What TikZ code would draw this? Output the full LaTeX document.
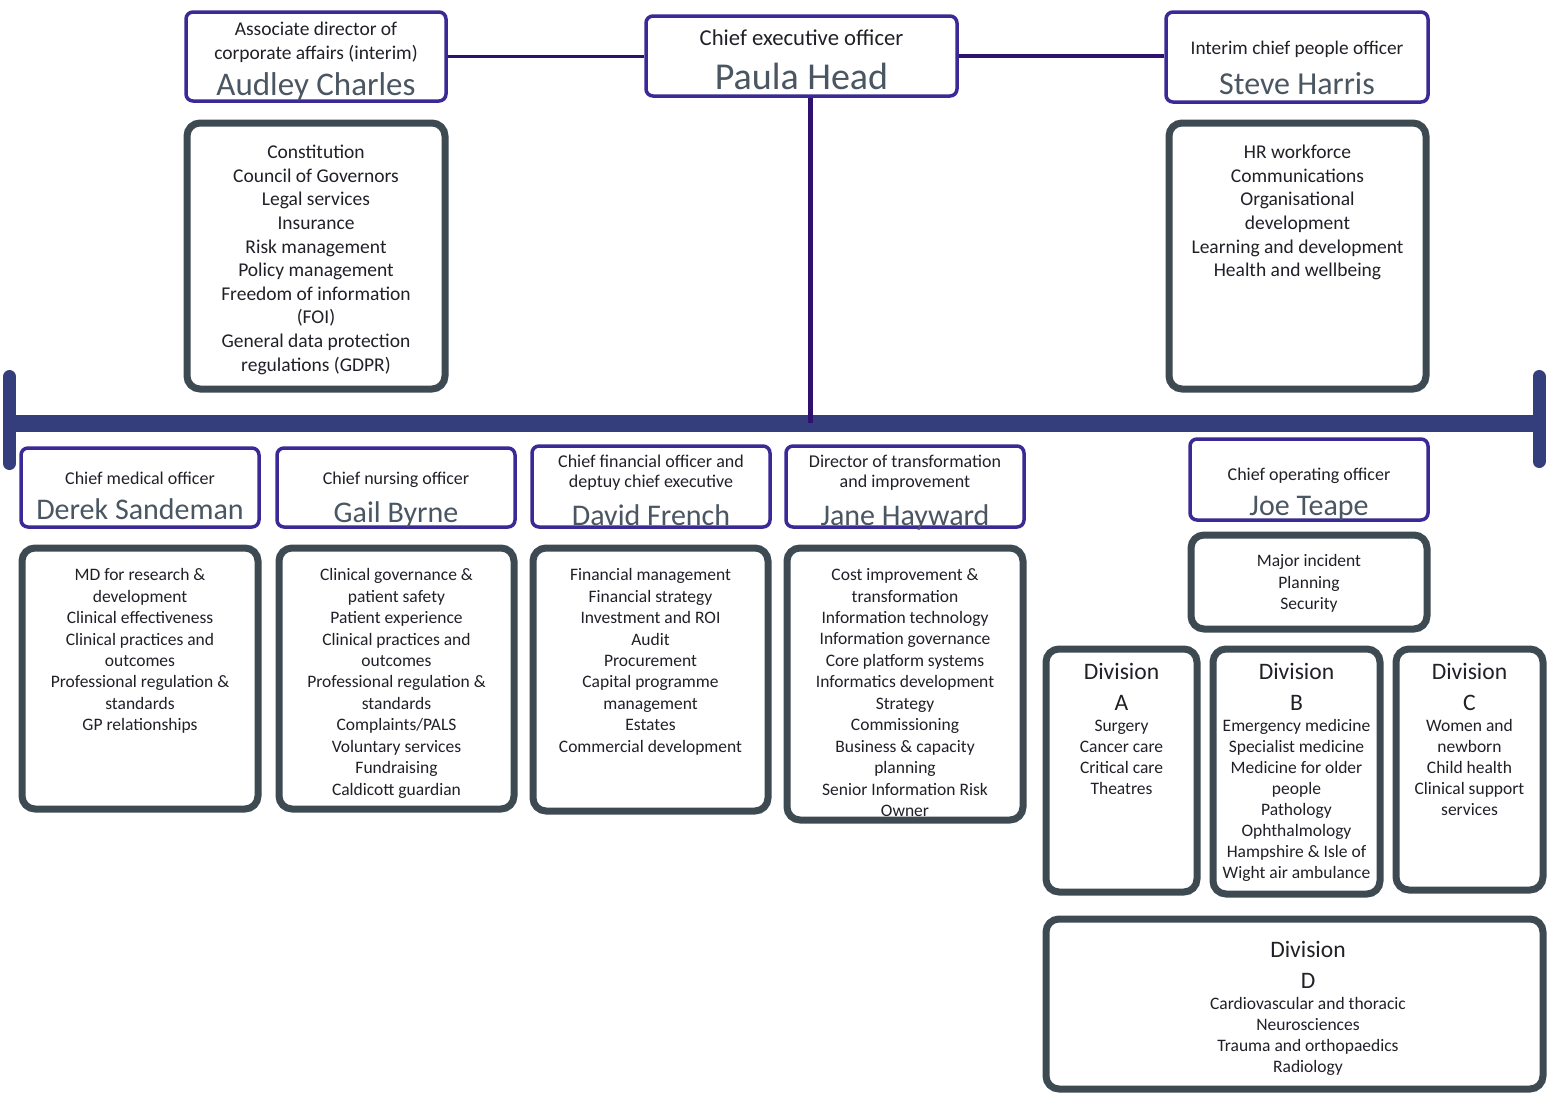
\documentclass[tikz,border=0pt]{standalone}
\usepackage{fontspec}
\setmainfont{Carlito}
\usetikzlibrary{positioning}
\definecolor{rolepurple}{RGB}{58,42,150}
\definecolor{dutyslate}{RGB}{62,74,82}
\definecolor{busnavy}{RGB}{52,62,124}
\definecolor{linkpurple}{RGB}{46,16,110}
\definecolor{namegrey}{RGB}{74,86,98}
\definecolor{textdark}{RGB}{32,32,40}
\newcommand\staffname[2]{{\color{namegrey}\fontsize{#1}{#1}\selectfont #2}}
\newcommand\divhead[1]{{\fontsize{23.6}{21}\selectfont Division}\\[9.5pt]{\fontsize{23.6}{21}\selectfont #1}\\}
\tikzset{
  rolebox/.style={draw=rolepurple, line width=3.5pt, rounded corners=7pt, fill=white},
  dutybox/.style={draw=dutyslate, line width=7pt, rounded corners=13pt, fill=white},
  roletext/.style={align=center, inner sep=0pt, text=textdark, font=\fontsize{18}{20}\selectfont},
  duties/.style={align=center, inner sep=0pt, text=textdark, font=\fontsize{17.5}{21.45}\selectfont},
  link/.style={draw=linkpurple, line width=3.5pt},
}

\begin{document}
\begin{tikzpicture}[x=1pt,y=-1pt]
\useasboundingbox (0,0) rectangle (1548,1093);
\clip (0,0) rectangle (1548,1093);
% the bus
\coordinate (busleft) at (9.5,423);
\coordinate (busright) at (1539,423);
\draw[busnavy, line width=17pt] (busleft) -- (busright);
\draw[busnavy, line width=13pt, line cap=round] ([yshift=46.5pt]busleft) -- ([yshift=-40.5pt]busleft);
\draw[busnavy, line width=13pt, line cap=round] ([yshift=46.5pt]busright) -- ([yshift=-38.5pt]busright);

% top row
\node[rolebox, minimum width=260pt, minimum height=89pt] (audley) at (316,56.5) {};
\node[rolebox, minimum width=311pt, minimum height=80pt] (ceo) at (801.5,56) {};
\node[rolebox, minimum width=262pt, minimum height=90pt] (steve) at (1297,57) {};
\draw[link] (audley.east) -- (audley.east -| ceo.west);
\draw[link] (ceo.east) -- (ceo.east -| steve.west);
\draw[link, line width=5pt] ([xshift=8.5pt]ceo.south) -- ([xshift=8.5pt]ceo.south |- busleft);

\node[roletext, font=\fontsize{19.5}{24}\selectfont, below=12pt of audley.north] (audleytext)
  {Associate director of\\corporate affairs (interim)\\[8.5pt]\staffname{33}{Audley Charles}};
\node[roletext, font=\fontsize{22.7}{26}\selectfont, below=15.5pt of ceo.north] (ceotext)
  {Chief executive officer\\[16pt]\staffname{38}{Paula Head}};
\node[roletext, font=\fontsize{19.3}{22}\selectfont, below=30.5pt of steve.north] (stevetext)
  {Interim chief people officer\\[14pt]\staffname{32}{Steve Harris}};

\node[dutybox, minimum width=258pt, minimum height=266pt] (audleyduties) at (316,256) {};
\node[dutybox, minimum width=257pt, minimum height=266pt] (steveduties) at (1297.5,256) {};
\node[duties, font=\fontsize{19.5}{23.6}\selectfont, below=25.5pt of audleyduties.north] (audleylist)
  {Constitution\\Council of Governors\\Legal services\\Insurance\\Risk management\\Policy management\\Freedom of information\\(FOI)\\General data protection\\regulations (GDPR)};
\node[duties, font=\fontsize{19.5}{23.6}\selectfont, below=25.5pt of steveduties.north] (stevelist)
  {HR workforce\\Communications\\Organisational\\development\\Learning and development\\Health and wellbeing};

% second row
\node[rolebox, minimum width=238pt, minimum height=79pt] (derek) at (140,487.5) {};
\node[rolebox, minimum width=238pt, minimum height=79pt] (gail) at (396,487.5) {};
\node[rolebox, minimum width=238pt, minimum height=81pt] (david) at (651,486.5) {};
\node[rolebox, minimum width=238pt, minimum height=81pt] (jane) at (905,486.5) {};
\node[rolebox, minimum width=238pt, minimum height=81pt] (joe) at (1309,479.5) {};
\node[roletext, below=25.5pt of derek.north] (derektext) {Chief medical officer\\[13pt]\staffname{30}{Derek Sandeman}};
\node[roletext, below=25.5pt of gail.north] (gailtext) {Chief nursing officer\\[13pt]\staffname{30}{Gail Byrne}};
\node[roletext, below=10.5pt of david.north] (davidtext) {Chief financial officer and\\deptuy chief executive\\[13pt]\staffname{30}{David French}};
\node[roletext, below=10.5pt of jane.north] (janetext) {Director of transformation\\and improvement\\[13pt]\staffname{30}{Jane Hayward}};
\node[roletext, below=30.5pt of joe.north] (joetext) {Chief operating officer\\[12pt]\staffname{30}{Joe Teape}};

\node[dutybox, minimum width=236pt, minimum height=261pt] (derekduties) at (140,678.5) {};
\node[dutybox, minimum width=235pt, minimum height=261pt] (gailduties) at (396.5,678.5) {};
\node[dutybox, minimum width=235pt, minimum height=263pt] (davidduties) at (650.5,679.5) {};
\node[dutybox, minimum width=236pt, minimum height=272pt] (janeduties) at (905,684) {};
\node[dutybox, minimum width=236pt, minimum height=94pt] (joeduties) at (1309,582) {};
\node[duties, below=23.8pt of derekduties.north] (dereklist)
  {MD for research \&\\development\\Clinical effectiveness\\Clinical practices and\\outcomes\\Professional regulation \&\\standards\\GP relationships};
\node[duties, below=23.8pt of gailduties.north] (gaillist)
  {Clinical governance \&\\patient safety\\Patient experience\\Clinical practices and\\outcomes\\Professional regulation \&\\standards\\Complaints/PALS\\Voluntary services\\Fundraising\\Caldicott guardian};
\node[duties, below=23.8pt of davidduties.north] (davidlist)
  {Financial management\\Financial strategy\\Investment and ROI\\Audit\\Procurement\\Capital programme\\management\\Estates\\Commercial development};
\node[duties, below=23.8pt of janeduties.north] (janelist)
  {Cost improvement \&\\transformation\\Information technology\\Information governance\\Core platform systems\\Informatics development\\Strategy\\Commissioning\\Business \& capacity\\planning\\Senior Information Risk\\Owner};
\node[duties, below=23pt of joeduties.north] (joelist) {Major incident\\Planning\\Security};

% divisions
\node[dutybox, minimum width=151pt, minimum height=243pt] (diva) at (1121.5,770.5) {};
\node[dutybox, minimum width=167pt, minimum height=245pt] (divb) at (1296.5,771.5) {};
\node[dutybox, minimum width=147pt, minimum height=241pt] (divc) at (1469.5,769.5) {};
\node[dutybox, minimum width=497pt, minimum height=170pt] (divd) at (1294.5,1004) {};
\node[duties, font=\fontsize{17.5}{21}\selectfont, below=17.7pt of diva.north] (divalist)
  {\divhead{A}Surgery\\Cancer care\\Critical care\\Theatres};
\node[duties, font=\fontsize{17.5}{21}\selectfont, below=17.7pt of divb.north] (divblist)
  {\divhead{B}Emergency medicine\\Specialist medicine\\Medicine for older\\people\\Pathology\\Ophthalmology\\Hampshire \& Isle of\\Wight air ambulance};
\node[duties, font=\fontsize{17.5}{21}\selectfont, below=17.7pt of divc.north] (divclist)
  {\divhead{C}Women and\\newborn\\Child health\\Clinical support\\services};
\node[duties, font=\fontsize{17.5}{21}\selectfont, below=26pt of divd.north, xshift=13.5pt] (divdlist)
  {\divhead{D}Cardiovascular and thoracic\\Neurosciences\\Trauma and orthopaedics\\Radiology};
\end{tikzpicture}
\end{document}
